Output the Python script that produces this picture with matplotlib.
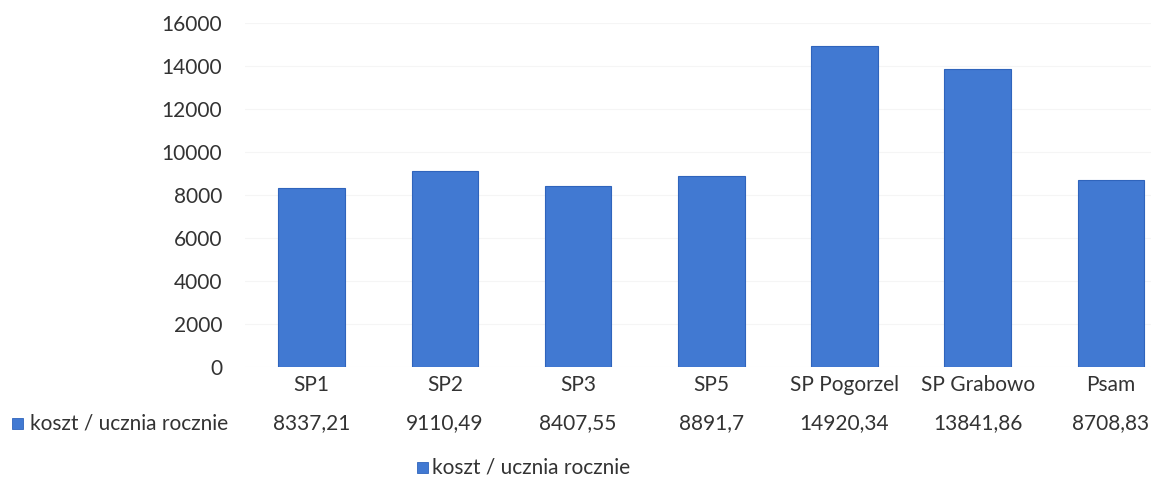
import matplotlib.pyplot as plt
from matplotlib.patches import Rectangle

plt.rcParams['font.family'] = ['Lato', 'DejaVu Sans']

schools = ['SP1', 'SP2', 'SP3', 'SP5', 'SP Pogorzel', 'SP Grabowo', 'Psam']
cost_per_student = [8337.21, 9110.49, 8407.55, 8891.7, 14920.34, 13841.86, 8708.83]
value_labels = ['8337,21', '9110,49', '8407,55', '8891,7', '14920,34', '13841,86', '8708,83']
series_name = 'koszt / ucznia rocznie'
yticks = [0, 2000, 4000, 6000, 8000, 10000, 12000, 14000, 16000]

bar_color = '#4179d2'
edge_color = '#2f64bc'
text_color = '#333333'
fs = 15

W, H = 1151, 486
fig = plt.figure(figsize=(W / 100, H / 100), dpi=100)
# axes placed in pixel terms: x 245..1151, y 23..367 (top-down)
ax = fig.add_axes([245 / W, (H - 367) / H, (W - 245) / W, (367 - 23) / H])

x = list(range(len(schools)))
ax.bar(x, cost_per_student, width=0.5, color=bar_color, edgecolor=edge_color, linewidth=0.8, zorder=3)
ax.set_xlim(-0.5, 6.30)
ax.set_ylim(0, 16000)
ax.set_yticks(yticks)
ax.set_yticklabels([str(t) for t in yticks], fontsize=fs, color=text_color)
ax.tick_params(axis='y', length=0, pad=16.5)
ax.tick_params(axis='x', length=0, pad=6)
ax.set_xticks(x)
ax.set_xticklabels(schools, fontsize=fs, color=text_color)
ax.grid(axis='y', color='#f5f5f5', linewidth=0.8, zorder=0)
for s in ax.spines.values():
    s.set_visible(False)

# data table row
row_y = -0.163
for xi, lab in zip(x, value_labels):
    ax.text(xi, row_y, lab, transform=ax.get_xaxis_transform(), ha='center', va='center',
            fontsize=fs, color=text_color, clip_on=False)
fig.text(30 / W, 1 - 423 / H, series_name, ha='left', va='center', fontsize=fs, color=text_color)
fig.patches.append(Rectangle((12 / W, 1 - 429 / H), 11 / W, 11 / H, transform=fig.transFigure,
                             facecolor=bar_color, edgecolor=edge_color, linewidth=0.6))

# legend
fig.text(432 / W, 1 - 467 / H, series_name, ha='left', va='center', fontsize=fs, color=text_color)
fig.patches.append(Rectangle((417 / W, 1 - 473 / H), 11 / W, 11 / H, transform=fig.transFigure,
                             facecolor=bar_color, edgecolor=edge_color, linewidth=0.6))

fig.savefig('out.png', dpi=100)
